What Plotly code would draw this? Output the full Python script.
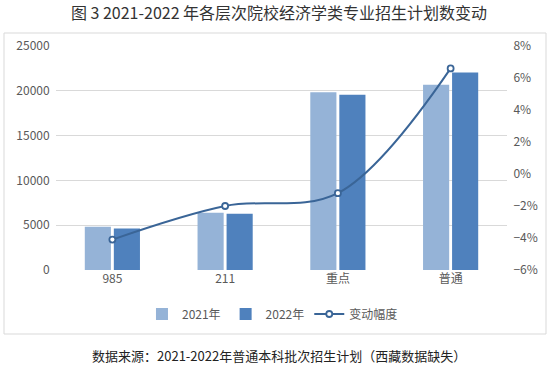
import plotly.graph_objects as go

categories = ["985", "211", "重点", "普通"]
plan_2021 = [4830, 6400, 19830, 20680]
plan_2022 = [4630, 6270, 19550, 22040]
change_pct = [-0.041, -0.020, -0.012, 0.066]

W, H = 558, 366
ml, mr, mt, mb = 56, 51, 46, 96
pw, ph = W - ml - mr, H - mt - mb

def px_x(x):
    return (x - ml) / pw

def px_y(y):
    return (H - mb - y) / ph

font_cjk = "Noto Sans CJK SC, Microsoft YaHei, sans-serif"
tick_color = "#595959"

fig = go.Figure()
fig.add_trace(go.Bar(x=categories, y=plan_2021, name="2021年",
                     marker=dict(color="#95B3D7", line=dict(width=0))))
fig.add_trace(go.Bar(x=categories, y=plan_2022, name="2022年",
                     marker=dict(color="#4F81BD", line=dict(width=0))))
fig.add_trace(go.Scatter(x=categories, y=change_pct, name="变动幅度", yaxis="y2",
                         mode="lines+markers", line=dict(color="#3A6597", width=2, shape="spline"),
                         marker=dict(symbol="circle", size=6, color="white",
                                     line=dict(color="#3A6597", width=1.8))))

fig.update_layout(
    width=W, height=H,
    margin=dict(l=ml, r=mr, t=mt, b=mb),
    paper_bgcolor="white", plot_bgcolor="white",
    barmode="group", bargap=0.485, bargroupgap=0.1,
    font=dict(family=font_cjk, size=12, color=tick_color),
    showlegend=True,
    legend=dict(orientation="h", x=0.48, xanchor="center", y=px_y(314), yanchor="middle",
                font=dict(size=12, color=tick_color), traceorder="normal",
                itemwidth=30, bgcolor="rgba(0,0,0,0)"),
    xaxis=dict(showgrid=False, showline=False, ticks="", zeroline=False,
               tickfont=dict(size=12, color=tick_color)),
    yaxis=dict(range=[0, 25000], dtick=5000, tickformat="d", showgrid=True, gridcolor="#D9D9D9",
               gridwidth=1, zeroline=False, showline=False, ticks="",
               tickfont=dict(size=12, color=tick_color), ticksuffix="  "),
    yaxis2=dict(range=[-0.06, 0.08], dtick=0.02, tickformat=".0%", overlaying="y",
                side="right", showgrid=False, zeroline=False, showline=False, ticks="",
                tickfont=dict(size=12, color=tick_color), tickprefix="  "),
    title=dict(text="图 3 2021-2022 年各层次院校经济学类专业招生计划数变动",
               x=0.5, xanchor="center", y=1 - 13 / H, yanchor="middle",
               font=dict(family=font_cjk, size=16, color="#333333")),
)

fig.add_shape(type="rect", xref="paper", yref="paper",
              x0=px_x(4), x1=px_x(546), y0=px_y(334), y1=px_y(33),
              line=dict(color="#D9D9D9", width=1), fillcolor="rgba(0,0,0,0)", layer="below")

fig.add_annotation(text="数据来源：2021-2022年普通本科批次招生计划（西藏数据缺失）",
                   xref="paper", yref="paper", x=px_x(279), y=px_y(355),
                   xanchor="center", yanchor="middle", showarrow=False,
                   font=dict(family=font_cjk, size=13, color="#222222"))

fig.write_html("out.html", config={"displayModeBar": False},
               post_script="document.body.style.margin='0';")
